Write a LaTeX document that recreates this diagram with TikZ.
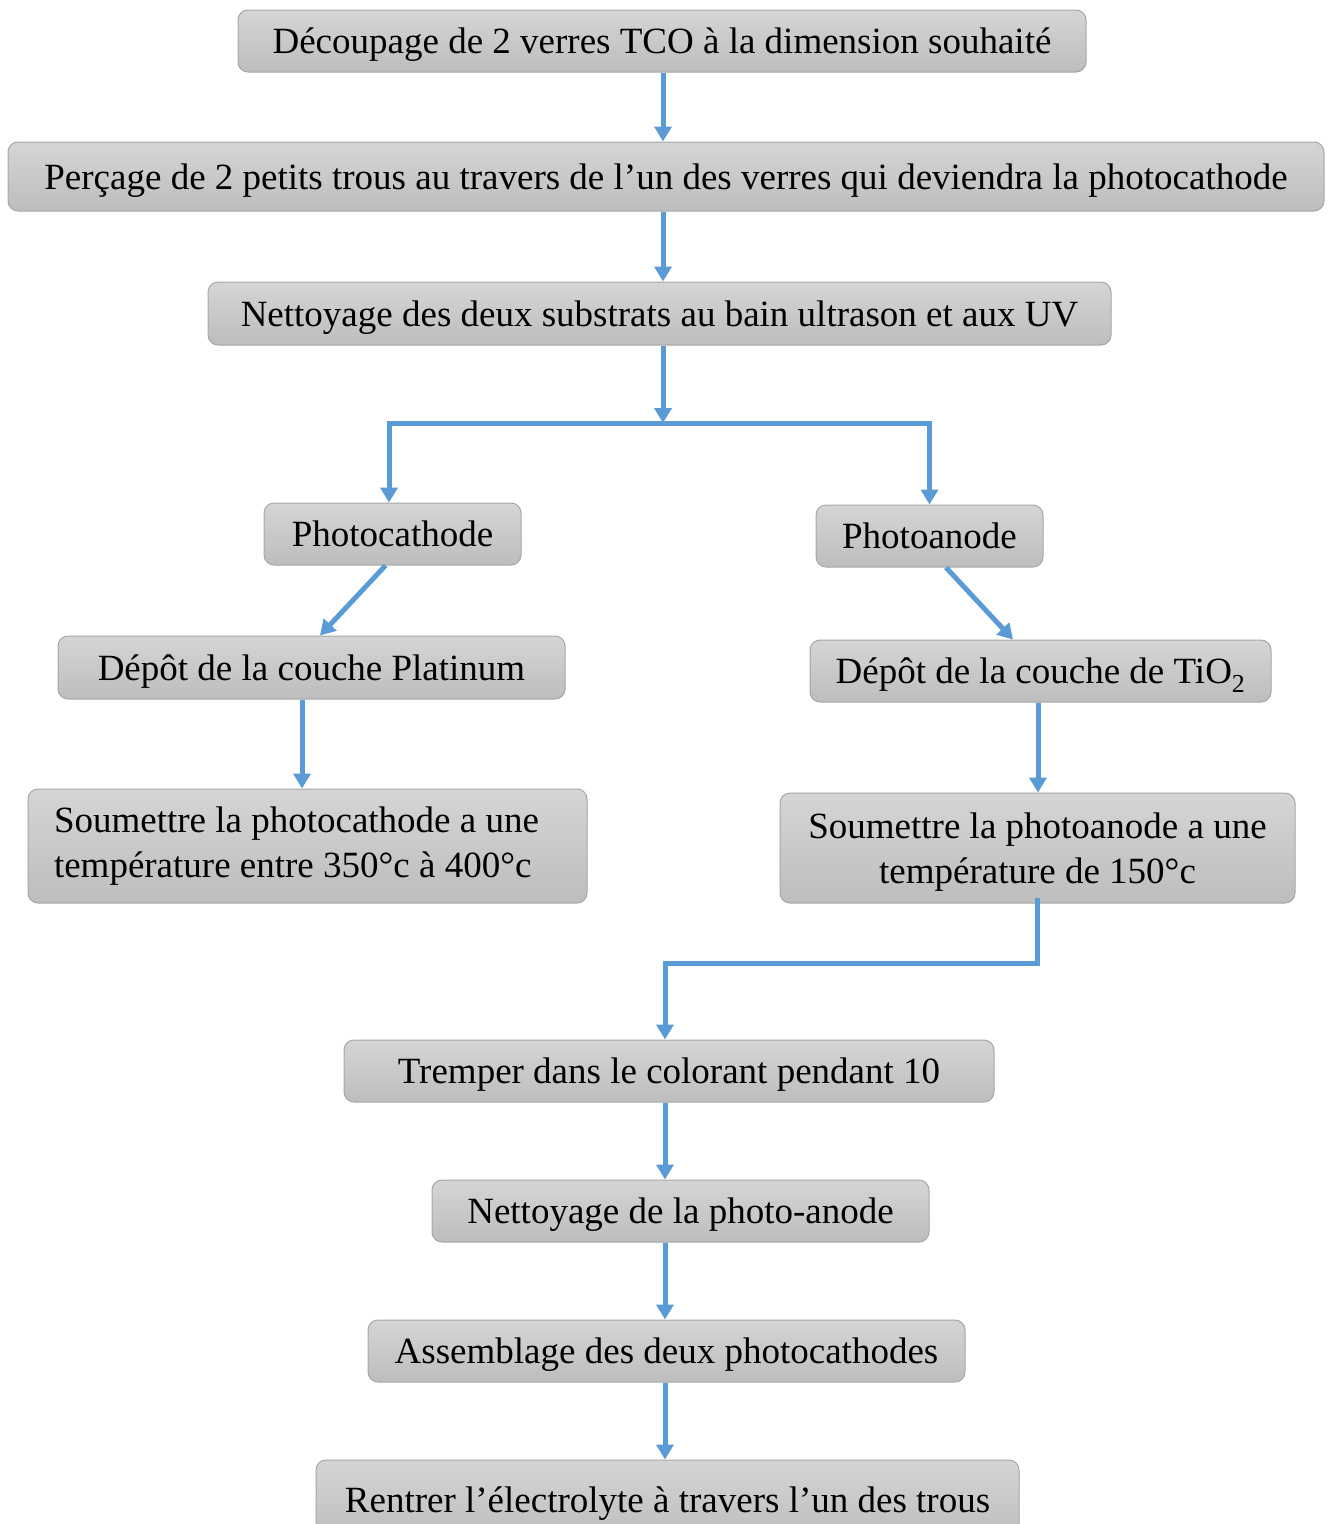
\documentclass[tikz,border=0pt]{standalone}
\usepackage{fontspec}
\setmainfont{Liberation Serif}
\usepackage{tikz}
\usetikzlibrary{arrows.meta}
\definecolor{flowblue}{HTML}{5B9BD5}
\definecolor{boxtop}{HTML}{D5D5D5}
\definecolor{boxbot}{HTML}{BDBDBD}
\definecolor{boxline}{HTML}{A6A6A6}
\tikzset{
	etape/.style={rounded corners=10pt,draw=boxline,line width=1pt,
		top color=boxtop,bottom color=boxbot,text depth=0pt,
		font=\fontsize{37}{45}\selectfont},
	fleche/.style={->,draw=flowblue,line width=5pt}
}

\begin{document}
\begin{tikzpicture}[x=1pt,y=-1pt,>={Triangle[width=17pt,length=15pt]}]
	\useasboundingbox (0,0) rectangle (1332,1524);
	\coordinate (haut) at (663,0);
	\coordinate (axe) at (665,0);
	% etapes communes
	\node [etape,minimum width=848pt,minimum height=62pt] (decoupe) at (662,41) {Découpage de 2 verres TCO à la dimension souhaité};
	\node [etape,minimum width=1316pt,minimum height=69pt] (percage) at (666,176.5) {Perçage de 2 petits trous au travers de l’un des verres qui deviendra la photocathode};
	\node [etape,minimum width=903pt,minimum height=63pt] (nettoyage) at (659.5,313.5) {Nettoyage des deux substrats au bain ultrason et aux UV};
	\coordinate (split) at (663,423);
	% deux branches
	\node [etape,minimum width=257pt,minimum height=62pt] (cathode) at (392.5,534) {Photocathode};
	\node [etape,minimum width=227pt,minimum height=62pt] (anode) at (929.5,536) {Photoanode};
	\node [etape,minimum width=507pt,minimum height=63pt] (platine) at (311.5,667.5) {Dépôt de la couche Platinum};
	\node [etape,minimum width=461pt,minimum height=62pt] (tio) at (1040.5,671) {Dépôt de la couche de TiO\textsubscript{2}};
	\node [etape,minimum height=114pt,text width=507pt,inner xsep=26pt,align=flush left,text depth=] (chauffeC) at (307.5,846) {Soumettre la photocathode a une\\température entre 350°c à 400°c};
	\node [etape,minimum width=515pt,minimum height=110pt,align=center] (chauffeA) at (1037.5,848) {Soumettre la photoanode a une\\température de 150°c};
	% suite
	\node [etape,minimum width=650pt,minimum height=62pt] (tremper) at (669,1071) {Tremper dans le colorant pendant 10};
	\node [etape,minimum width=497pt,minimum height=62pt] (lavage) at (680.5,1211) {Nettoyage de la photo-anode};
	\node [etape,minimum width=597pt,minimum height=62pt] (assemblage) at (666.5,1351) {Assemblage des deux photocathodes};
	\node [etape,minimum width=703pt,minimum height=80pt] (rentrer) at (667.5,1500) {Rentrer l’électrolyte à travers l’un des trous};

	\draw [fleche] (decoupe.south -| haut) -- (percage.north -| haut);
	\draw [fleche] (percage.south -| haut) -- (nettoyage.north -| haut);
	\draw [fleche] (nettoyage.south -| haut) -- (split);
	\draw [fleche] (split) -| ([xshift=-3.5pt]cathode.north);
	\draw [fleche] (split) -| (anode.north);
	\draw [fleche] ([xshift=-7pt]cathode.south) -- ([xshift=8.5pt]platine.north);
	\draw [fleche] ([xshift=16.5pt]anode.south) -- ([xshift=-27.5pt]tio.north);
	\draw [fleche] ([xshift=-9.5pt]platine.south) -- ([xshift=-5.5pt]chauffeC.north);
	\draw [fleche] ([xshift=-2.5pt]tio.south) -- ([xshift=0.5pt]chauffeA.north);
	\draw [fleche] ([yshift=6pt]chauffeA.south) -- ++(0,66) -| (tremper.north -| axe);
	\draw [fleche] (tremper.south -| axe) -- (lavage.north -| axe);
	\draw [fleche] (lavage.south -| axe) -- (assemblage.north -| axe);
	\draw [fleche] (assemblage.south -| axe) -- (rentrer.north -| axe);
\end{tikzpicture}
\end{document}
